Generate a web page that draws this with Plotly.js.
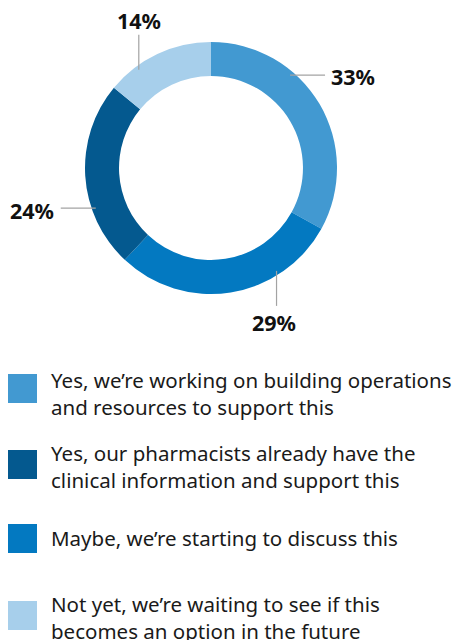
<!DOCTYPE html>
<html>
<head>
<meta charset="utf-8">
<script src="https://cdn.plot.ly/plotly-3.0.1.min.js"></script>
<style>
  html, body { margin: 0; padding: 0; background: #ffffff; }
  #chart { width: 454px; height: 640px; }
</style>
</head>
<body>
<div id="chart"></div>
<script>
// ---- data ----
const sliceLabels = [
  "Yes, we’re working on building operations<br>and resources to support this",
  "Maybe, we’re starting to discuss this",
  "Yes, our pharmacists already have the<br>clinical information and support this",
  "Not yet, we’re waiting to see if this<br>becomes an option in the future"
];
const sliceValues = [33, 29, 24, 14];
const sliceColors = ["#4299d1", "#0379c1", "#04598f", "#a7cfeb"];
const legendOrder = [0, 2, 1, 3];

// ---- layout helpers (positions / styles) ----
const W = 454, H = 640;
const cx = 211, cy = 168, R = 126;
const px = x => x / W;
const py = y => 1 - y / H;

const anchorFrac = [0.34, 0.275, 0.32, 0.28];
const labelDir = ["right", "down", "left", "up"];
const leadR = 122, leadLen = 35, gap = 6;

const legendSqTop = [374, 450, 524, 601];
const legendBaseline = [386.5, 459.5, 544.5, 610.5];
const sqX = 8, sqSize = 29, legendTextX = 50;
const legendFontSize = 20.5;

const shapes = [];
const annotations = [];

const total = sliceValues.reduce((a, b) => a + b, 0);
let start = 0;
sliceValues.forEach((v, i) => {
  const sweep = v / total * 360;
  const th = (start + anchorFrac[i] * sweep) * Math.PI / 180;
  start += sweep;
  const ax = cx + leadR * Math.sin(th);
  const ay = cy - leadR * Math.cos(th);
  let ex = ax, ey = ay;
  const ann = {
    text: v + "%", showarrow: false, xref: "paper", yref: "paper",
    font: { family: "Noto Sans, sans-serif", size: 21.5, color: "#111111", weight: 700 },
    borderpad: 0
  };
  if (labelDir[i] === "right") { ex = ax + leadLen; ann.x = px(ex + gap - 1); ann.y = py(ay + 1); ann.xanchor = "left"; ann.yanchor = "middle"; }
  if (labelDir[i] === "left")  { ex = ax - leadLen; ann.x = px(ex - gap); ann.y = py(ay + 2); ann.xanchor = "right"; ann.yanchor = "middle"; }
  if (labelDir[i] === "down")  { ey = ay + leadLen; ann.x = px(ax - 3); ann.y = py(ey + 1); ann.xanchor = "center"; ann.yanchor = "top"; }
  if (labelDir[i] === "up")    { ey = ay - leadLen; ann.x = px(ax); ann.y = py(ey + 1); ann.xanchor = "center"; ann.yanchor = "bottom"; }
  shapes.push({
    type: "line", xref: "paper", yref: "paper",
    x0: px(ax), y0: py(ay), x1: px(ex), y1: py(ey),
    line: { color: "#a3a3a3", width: 1.2 }
  });
  annotations.push(ann);
});

legendOrder.forEach((idx, k) => {
  const top = legendSqTop[k];
  shapes.push({
    type: "rect", xref: "paper", yref: "paper",
    x0: px(sqX), x1: px(sqX + sqSize), y0: py(top + sqSize), y1: py(top),
    fillcolor: sliceColors[idx], line: { width: 0 }
  });
  annotations.push({
    text: sliceLabels[idx], showarrow: false, xref: "paper", yref: "paper",
    x: px(legendTextX), y: py(legendBaseline[k] - 1.069 * legendFontSize),
    xanchor: "left", yanchor: "top", align: "left", borderpad: 0,
    font: { family: "Noto Sans, sans-serif", size: legendFontSize, color: "#1a1a1a" }
  });
});

const trace = {
  type: "pie",
  values: sliceValues,
  labels: sliceLabels,
  marker: { colors: sliceColors, line: { width: 0 } },
  hole: 0.73,
  sort: false,
  direction: "clockwise",
  rotation: 0,
  textinfo: "none",
  hoverinfo: "none",
  showlegend: false,
  domain: { x: [px(cx - R), px(cx + R)], y: [py(cy + R), py(cy - R)] }
};

const layout = {
  width: W, height: H,
  margin: { l: 0, r: 0, t: 0, b: 0 },
  paper_bgcolor: "#ffffff",
  plot_bgcolor: "#ffffff",
  showlegend: false,
  shapes: shapes,
  annotations: annotations
};

Plotly.newPlot("chart", [trace], layout, { staticPlot: true, displayModeBar: false });
</script>
</body>
</html>
